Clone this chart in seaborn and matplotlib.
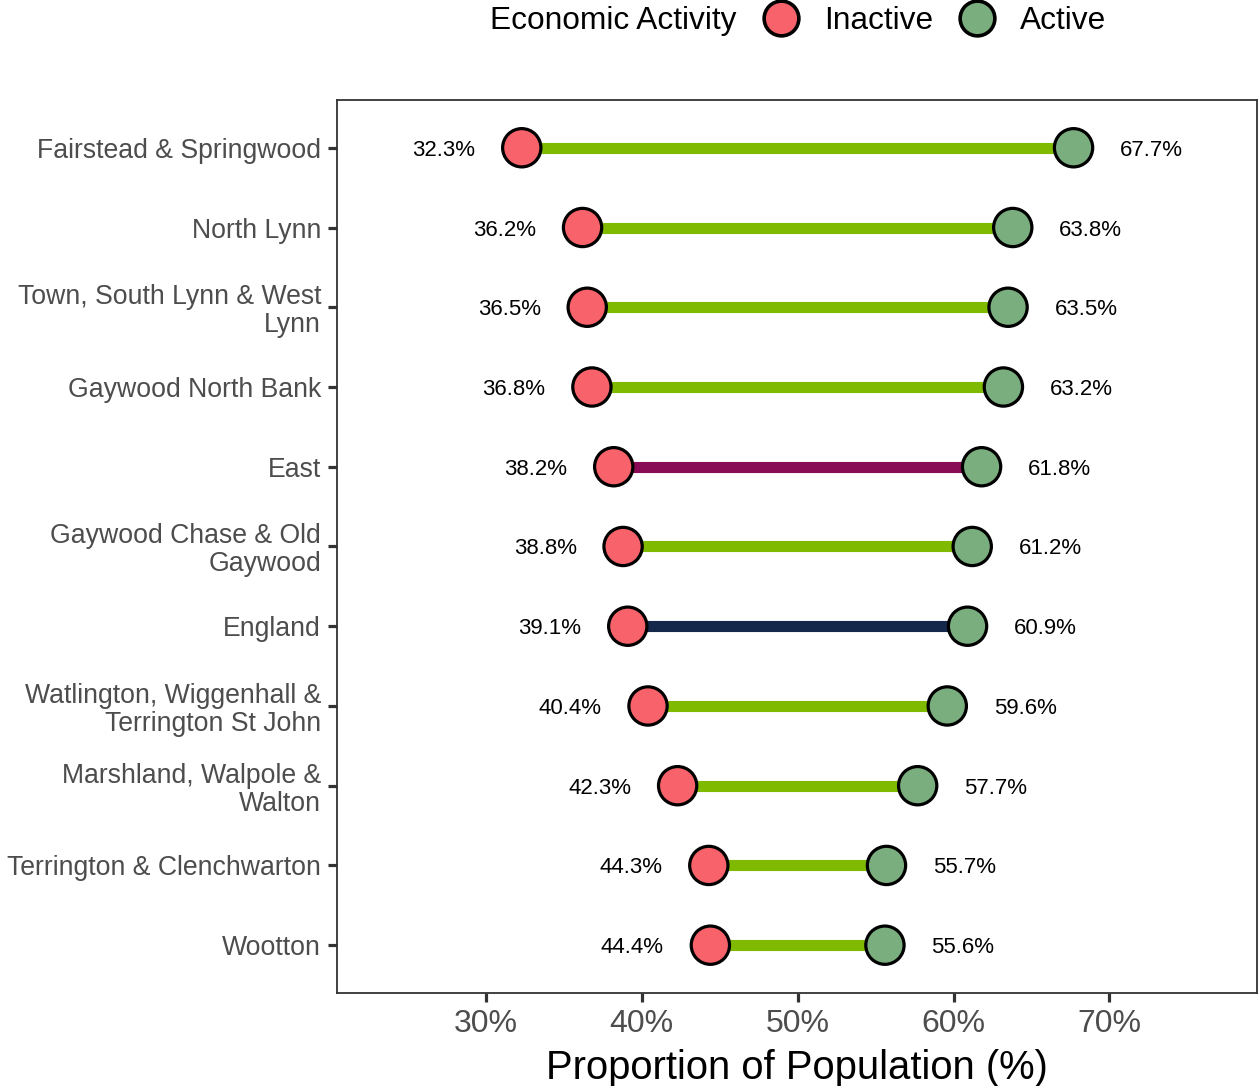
import pandas as pd
import seaborn as sns
import matplotlib.pyplot as plt
from matplotlib.lines import Line2D

# ward level economic activity (census 2021 style figures)
areas = ['Fairstead & Springwood', 'North Lynn', 'Town, South Lynn & West\nLynn',
         'Gaywood North Bank', 'East', 'Gaywood Chase & Old\nGaywood', 'England',
         'Watlington, Wiggenhall &\nTerrington St John', 'Marshland, Walpole &\nWalton',
         'Terrington & Clenchwarton', 'Wootton']
inactive = [32.3, 36.2, 36.5, 36.8, 38.2, 38.8, 39.1, 40.4, 42.3, 44.3, 44.4]
active = [67.7, 63.8, 63.5, 63.2, 61.8, 61.2, 60.9, 59.6, 57.7, 55.7, 55.6]
line_cols = ['#7FBA00', '#7FBA00', '#7FBA00', '#7FBA00', '#8A0B55', '#7FBA00',
             '#14284B', '#7FBA00', '#7FBA00', '#7FBA00', '#7FBA00']

df = pd.DataFrame({'area': areas, 'Inactive': inactive, 'Active': active})
long_df = df.melt(id_vars='area', var_name='status', value_name='pct')

sns.set_theme(style='white')
plt.rcParams['font.family'] = ['Liberation Sans', 'DejaVu Sans']

fig = plt.figure(figsize=(12.6, 10.86), dpi=100)
ax = fig.add_axes([0.2675, 0.0856, 0.7305, 0.8224])

# connecting bars
for i, row in df.iterrows():
    ax.plot([row['Inactive'], row['Active']], [row['area'], row['area']],
            color=line_cols[i], lw=8, solid_capstyle='butt', zorder=1)

sns.scatterplot(data=long_df, x='pct', y='area', hue='status',
                palette={'Inactive': '#F8636B', 'Active': '#7BAE7F'},
                s=760, edgecolor='black', linewidth=2.3, zorder=3,
                legend=False, ax=ax)

for i, row in df.iterrows():
    ax.text(row['Inactive'] - 5, i, f"{row['Inactive']:.1f}%", ha='center',
            va='center_baseline', fontsize=16, color='black')
    ax.text(row['Active'] + 5, i, f"{row['Active']:.1f}%", ha='center',
            va='center_baseline', fontsize=16, color='black')

ax.set_xlim(20.45, 79.5)
ax.set_ylim(10.6, -0.6)
ax.set_xticks([30, 40, 50, 60, 70])
ax.set_xticklabels(['30%', '40%', '50%', '60%', '70%'])
ax.tick_params(axis='both', length=6.5, width=2.3, color='#333333', direction='out',
               bottom=True, left=True)
ax.tick_params(axis='y', labelsize=19.2, labelcolor='#4D4D4D', pad=5)
ax.tick_params(axis='x', labelsize=23, labelcolor='#4D4D4D', pad=5)
for lab in ax.get_yticklabels():
    lab.set_linespacing(1.1)
for s in ax.spines.values():
    s.set_color('#333333')
    s.set_linewidth(1.3)
ax.set_ylabel('')
ax.set_xlabel('Proportion of Population (%)', fontsize=28.8, color='black', labelpad=7)

# legend across the top
fig.text(0.389, 0.9835, 'Economic Activity', fontsize=22.8, ha='left',
         va='center_baseline', color='black')
handles = [Line2D([], [], marker='o', ls='', markersize=25, markerfacecolor=c,
                  markeredgecolor='black', markeredgewidth=2.6)
           for c in ['#F8636B', '#7BAE7F']]
leg = fig.legend(handles, ['Inactive', 'Active'], ncol=2, loc='center left',
                 bbox_to_anchor=(0.6048, 0.981), frameon=False, fontsize=22.8,
                 handlelength=1.2, handletextpad=0.75, columnspacing=0.8,
                 borderpad=0, borderaxespad=0)
for t in leg.get_texts():
    t.set_color('black')

fig.savefig('out.png', dpi=100)
